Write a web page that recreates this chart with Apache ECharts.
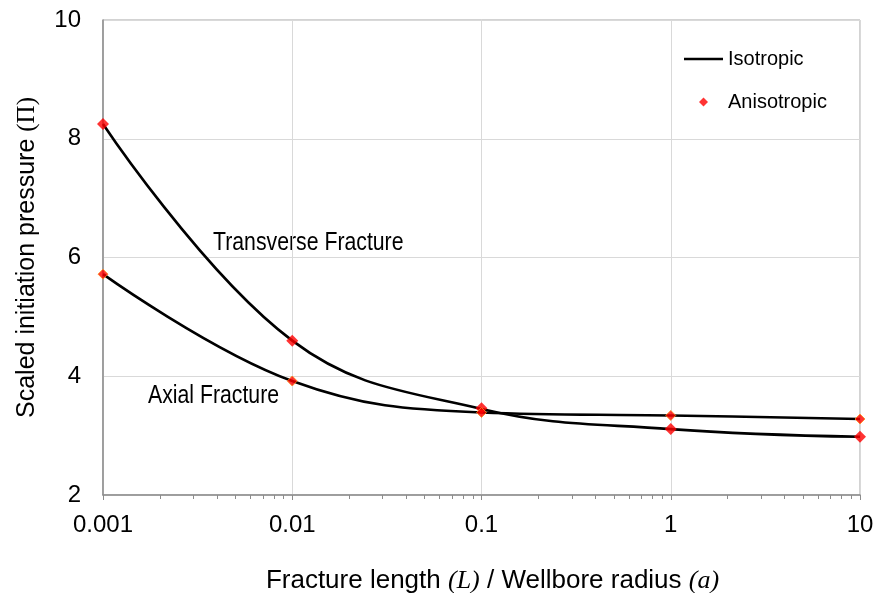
<!DOCTYPE html>
<html><head><meta charset="utf-8">
<script src="https://cdn.jsdelivr.net/npm/echarts@6/dist/echarts.min.js"></script>
<style>html,body{margin:0;padding:0;background:#fff}#c{width:878px;height:593px}</style>
</head><body><div id="c"></div>
<script>
var xValues = [0.001, 0.01, 0.1, 1, 10];
var xTickLabels = ['0.001', '0.01', '0.1', '1', '10'];
var yTicks = [2, 4, 6, 8, 10];
var transverseIso = [8.25, 4.60, 3.45, 3.11, 2.98];
var axialIso = [5.72, 3.92, 3.39, 3.34, 3.28];
var transverseAniso = [8.25, 4.60, 3.46, 3.11, 2.98];
var axialAniso = [5.72, 3.92, 3.39, 3.34, 3.28];

function pairs(xs, ys){ return xs.map(function(x,i){ return [x, ys[i]]; }); }
var FONT = '"Liberation Sans", Arial, sans-serif';
var SERIF = '"Liberation Serif", "Times New Roman", serif';

var chart = echarts.init(document.getElementById('c'));
chart.setOption({
  animation: false,
  grid: { left: 103, right: 18, top: 20, bottom: 98, show: true, borderColor: '#a6a6a6', borderWidth: 1,
          outerBoundsMode: 'none', containLabel: false },
  legend: [
    { left: 684, top: 49, padding: 0, orient: 'vertical', itemWidth: 39, itemHeight: 2.6, icon: 'rect',
      textStyle: { fontFamily: FONT, fontSize: 20, color: '#000' },
      data: [{ name: 'Isotropic', itemStyle: { color: '#000' } }] },
    { left: 699, top: 92, padding: 0, orient: 'vertical', itemWidth: 9, itemHeight: 9, icon: 'diamond',
      textStyle: { fontFamily: FONT, fontSize: 20, color: '#000', padding: [0, 0, 0, 15] },
      data: [{ name: 'Anisotropic', itemStyle: { color: '#ff0000', borderWidth: 0 } }] }
  ],
  xAxis: {
    type: 'log', logBase: 10, min: 0.001, max: 10,
    axisLine: { lineStyle: { color: '#8c8c8c', width: 1.5 } },
    axisTick: { show: true, inside: false, length: 5, lineStyle: { color: '#8c8c8c' } },
    minorTick: { show: true, splitNumber: 9, length: 4, lineStyle: { color: '#8c8c8c' } },
    splitLine: { show: true, lineStyle: { color: '#d9d9d9', width: 1 } },
    axisLabel: { margin: 18, fontFamily: FONT, fontSize: 24, color: '#000',
      formatter: function(v){ var i = -1; for (var k=0;k<xValues.length;k++){ if (Math.abs(Math.log10(v)-Math.log10(xValues[k]))<1e-6) i=k; } return i>=0 ? xTickLabels[i] : ''; } },
    name: '{n|Fracture length }{i|(L)}{n| / Wellbore radius }{i|(a)}',
    nameLocation: 'middle', nameGap: 73,
    nameTextStyle: { padding: [0, 0, 0, 22], rich: {
      n: { fontFamily: FONT, fontSize: 26, color: '#000' },
      i: { fontFamily: SERIF, fontStyle: 'italic', fontSize: 26, color: '#000' }
    } }
  },
  yAxis: {
    type: 'value', min: 2, max: 10, interval: 2,
    axisLine: { show: true, lineStyle: { color: '#8c8c8c', width: 1.5 } },
    axisTick: { show: false },
    splitLine: { show: true, lineStyle: { color: '#d9d9d9', width: 1 } },
    axisLabel: { margin: 22, fontFamily: FONT, fontSize: 24, color: '#000',
      formatter: function(v){ var i = yTicks.indexOf(v); return i>=0 ? String(yTicks[i]) : ''; } },
    name: '{n|Scaled initiation pressure }{s|(Π)}',
    nameLocation: 'middle', nameGap: 63, nameRotate: 90,
    nameTextStyle: { rich: {
      n: { fontFamily: FONT, fontSize: 25, color: '#000' },
      s: { fontFamily: SERIF, fontSize: 25, color: '#000' }
    } }
  },
  series: [
    { name: 'Isotropic', type: 'line', smooth: 0.4, symbol: 'none', data: pairs(xValues, transverseIso),
      lineStyle: { color: '#000', width: 2.6 }, itemStyle: { color: '#000' }, z: 2 },
    { name: 'Isotropic', type: 'line', smooth: 0.4, symbol: 'none', data: pairs(xValues, axialIso),
      lineStyle: { color: '#000', width: 2.6 }, itemStyle: { color: '#000' }, z: 2 },
    { name: 'Anisotropic', type: 'scatter', symbol: 'diamond', symbolSize: 12, data: pairs(xValues, transverseAniso),
      itemStyle: { color: '#ff0000' }, z: 3 },
    { name: 'Anisotropic', type: 'scatter', symbol: 'diamond', symbolSize: 10, data: pairs(xValues, axialAniso),
      itemStyle: { color: '#ff0000', borderColor: '#ff8c1a', borderWidth: 1 }, z: 3 }
  ],
  graphic: [
    { type: 'text', x: 213, y: 231, scaleX: 0.85, style: { text: 'Transverse Fracture', font: '25px ' + FONT, fill: '#000', verticalAlign: 'top' } },
    { type: 'text', x: 148, y: 384, scaleX: 0.85, style: { text: 'Axial Fracture', font: '25px ' + FONT, fill: '#000', verticalAlign: 'top' } }
  ]
});
</script></body></html>
